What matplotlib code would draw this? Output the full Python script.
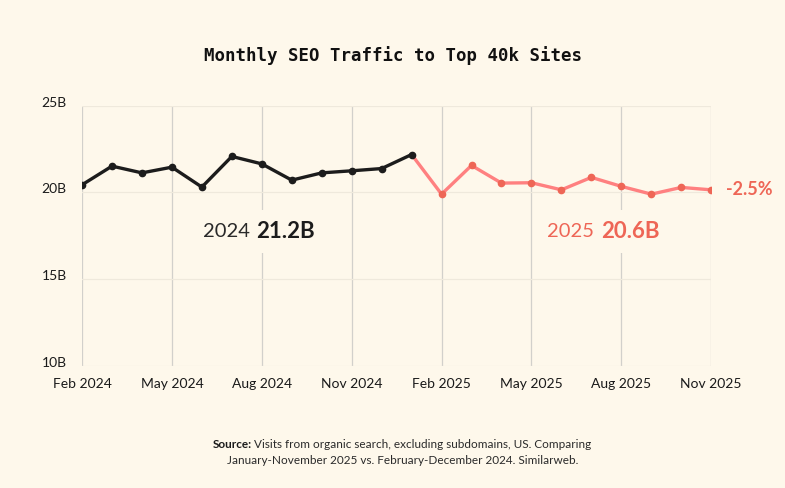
import matplotlib.pyplot as plt
from matplotlib import transforms

# monthly traffic, billions of visits
traffic_black = [20.44, 21.52, 21.13, 21.46, 20.31, 22.08, 21.65, 20.71, 21.13, 21.25, 21.38, 22.19]
traffic_red = [19.90, 21.56, 20.54, 20.56, 20.15, 20.87, 20.35, 19.90, 20.29, 20.15]
tick_labels = ['Feb 2024', 'May 2024', 'Aug 2024', 'Nov 2024',
               'Feb 2025', 'May 2025', 'Aug 2025', 'Nov 2025']
y_ticks = [10, 15, 20, 25]
avg_2024 = '21.2B'
avg_2025 = '20.6B'
change = '-2.5%'

BG = '#fef8eb'
BLACK = '#1c1c1c'
RED_LINE = '#ff8080'
RED = '#ee6656'
SANS = 'Lato'

plt.rcParams['font.family'] = [SANS, 'DejaVu Sans']

fig = plt.figure(figsize=(7.85, 4.88), dpi=100, facecolor=BG)
ax = fig.add_axes([0.1045, 0.251, 0.8015, 0.532], facecolor=BG)

x_black = list(range(len(traffic_black)))
x_red = list(range(len(traffic_black), len(traffic_black) + len(traffic_red)))

# red line starts at the last black point
ax.plot([x_black[-1]] + x_red, [traffic_black[-1]] + traffic_red,
        color=RED_LINE, lw=2.4, zorder=3, solid_capstyle='round')
ax.plot(x_red, traffic_red, 'o', color=RED, ms=4.5, zorder=4)
ax.plot(x_black, traffic_black, '-o', color=BLACK, lw=2.4, ms=4.5, zorder=5)

ax.set_xlim(0, x_red[-1])
ax.set_ylim(10, 25)
ax.set_xticks(range(0, x_red[-1] + 1, 3))
ax.set_xticklabels(tick_labels)
ax.set_yticks(y_ticks)
ax.set_yticklabels([f'{v}B' for v in y_ticks])

for s in ax.spines.values():
    s.set_visible(False)
ax.tick_params(length=0, labelsize=10, colors='#1a1a1a')
ax.tick_params(axis='x', pad=9)
ax.tick_params(axis='y', pad=11)
shift = transforms.ScaledTranslation(0, 4 / 100, fig.dpi_scale_trans)
for lab in ax.get_yticklabels():
    lab.set_transform(lab.get_transform() + shift)

ax.grid(axis='x', color='#d2d0cb', lw=0.9, zorder=0)
ax.grid(axis='y', color='#efe9dc', lw=0.9, zorder=0)

# yearly averages; the bold value hides the gridline behind it
box = dict(facecolor=BG, edgecolor='none', pad=8)
ax.text(5.8, 17.73, avg_2024, ha='left', va='center', fontsize=16,
        fontweight='bold', color=BLACK, bbox=box, zorder=2)
ax.text(5.6, 17.73, '2024', ha='right', va='center', fontsize=14.5,
        fontweight='normal', color='#2a2a2a', zorder=2.5)
ax.text(17.33, 17.73, avg_2025, ha='left', va='center', fontsize=16,
        fontweight='bold', color=RED, bbox=box, zorder=2)
ax.text(17.1, 17.73, '2025', ha='right', va='center', fontsize=14.5,
        fontweight='normal', color=RED, zorder=2.5)

ax.annotate(change, xy=(x_red[-1], traffic_red[-1]), xytext=(11, 0),
            textcoords='offset points', ha='left', va='center',
            fontsize=13, fontweight='bold', color=RED, annotation_clip=False)

fig.text(0.5, 0.887, 'Monthly SEO Traffic to Top 40k Sites', ha='center',
         va='center', fontsize=12.5, fontweight='bold',
         family='DejaVu Sans Mono', color='#111111')

# source note, bold lead-in followed by regular text
src = fig.text(0.2705, 0.09, 'Source:', ha='left', va='center', fontsize=8.5,
               fontweight='bold', color='#1a1a1a')
fig.add_artist(plt.Annotation(' Visits from organic search, excluding subdomains, US. Comparing',
                              xy=(1, 0.5), xycoords=src, xytext=(0, 0),
                              textcoords='offset points', ha='left', va='center',
                              fontsize=8.5, color='#2a2a2a'))
fig.text(0.5135, 0.057, 'January-November 2025 vs. February-December 2024. Similarweb.',
         ha='center', va='center', fontsize=8.5, color='#2a2a2a')

fig.savefig('out.png', dpi=100, facecolor=BG)
